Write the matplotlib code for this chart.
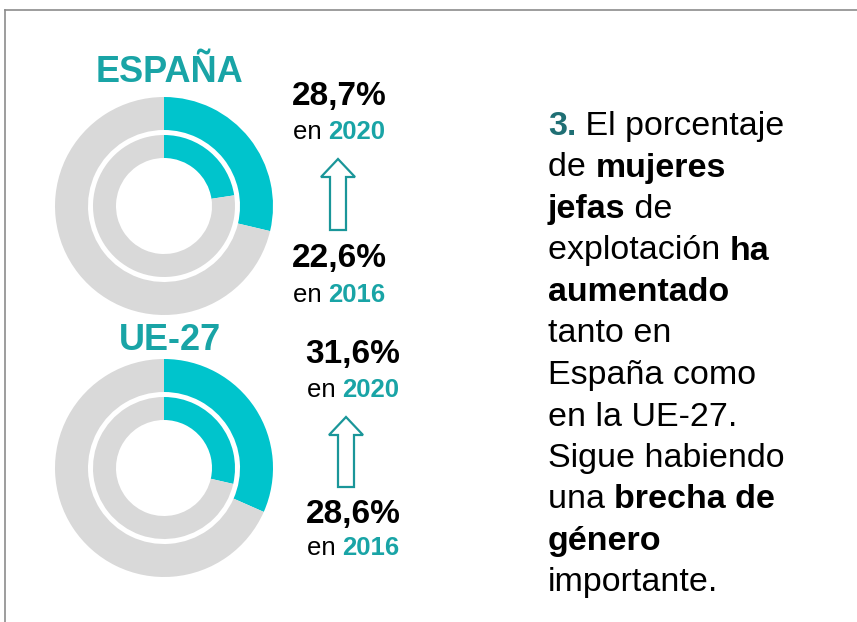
"""Mujeres jefas de explotación: España vs UE-27 (2016 -> 2020)."""

import matplotlib

matplotlib.use("Agg")
import matplotlib.pyplot as plt
from matplotlib.patches import FancyArrow
from matplotlib.lines import Line2D

plt.rcParams["font.family"] = ["Liberation Sans", "DejaVu Sans"]

# datos
regions = ["ESPAÑA", "UE-27"]
share_2016 = [22.6, 28.6]
share_2020 = [28.7, 31.6]
years = ["2016", "2020"]

# texto lateral: (texto, negrita, color)
TEAL = "#19A4A6"
CYAN = "#00C4CC"
GREY = "#D9D9D9"
DARK_TEAL = "#1F6F74"
ARROW = "#1A9699"
BLACK = "#000000"

paragraph = [
    [("3.", True, DARK_TEAL), (" El porcentaje", False, BLACK)],
    [("de ", False, BLACK), ("mujeres", True, BLACK)],
    [("jefas", True, BLACK), (" de", False, BLACK)],
    [("explotación ", False, BLACK), ("ha", True, BLACK)],
    [("aumentado", True, BLACK)],
    [("tanto en", False, BLACK)],
    [("España como", False, BLACK)],
    [("en la UE-27.", False, BLACK)],
    [("Sigue habiendo", False, BLACK)],
    [("una ", False, BLACK), ("brecha de", True, BLACK)],
    [("género", True, BLACK)],
    [("importante.", False, BLACK)],
]

W, H = 857, 622
fig = plt.figure(figsize=(W / 100, H / 100), dpi=100)
ax = fig.add_axes([0, 0, 1, 1])
renderer = fig.canvas.get_renderer()


def Y(y):
    return H - y


def text_width(txt, size, bold):
    # mide con barras para contar también los espacios
    w = "bold" if bold else "normal"
    a = ax.text(0, 0, "|" + txt + "|", fontsize=size, fontweight=w)
    b = ax.text(0, 0, "||", fontsize=size, fontweight=w)
    width = a.get_window_extent(renderer).width - b.get_window_extent(renderer).width
    a.remove()
    b.remove()
    return width


def draw_runs(x, y, runs, size, align="left"):
    widths = [text_width(t, size, b) for t, b, _ in runs]
    if align == "center":
        x = x - sum(widths) / 2
    for (txt, bold, color), w in zip(runs, widths):
        ax.text(x, Y(y), txt, fontsize=size, color=color, va="baseline", ha="left",
                fontweight="bold" if bold else "normal")
        x += w


# anillos
centers = [(164, 206), (164, 468)]
for (cx, cy), v16, v20 in zip(centers, share_2016, share_2020):
    ax.pie([v20, 100 - v20], radius=109, center=(cx, Y(cy)), startangle=90,
           counterclock=False, colors=[CYAN, GREY],
           wedgeprops=dict(width=33, linewidth=0))
    ax.pie([v16, 100 - v16], radius=71, center=(cx, Y(cy)), startangle=90,
           counterclock=False, colors=[CYAN, GREY],
           wedgeprops=dict(width=23, linewidth=0))

# títulos
for name, by in zip(regions, [82, 350]):
    ax.text(170, Y(by), name, fontsize=26, fontweight="bold", color=TEAL,
            ha="center", va="baseline")

# cifras y flechas
layout = [
    dict(x=339, top=105, top_en=139, ax_=338, tip=159, bot=230, low=267, low_en=302),
    dict(x=353, top=363, top_en=397, ax_=346, tip=417, bot=487, low=523, low_en=555),
]
for lay, v16, v20 in zip(layout, share_2016, share_2020):
    draw_runs(lay["x"], lay["top"], [(f"{v20:.1f}%".replace(".", ","), True, BLACK)],
              24, "center")
    draw_runs(lay["x"], lay["top_en"], [("en ", False, BLACK), (years[1], True, TEAL)],
              18.5, "center")
    draw_runs(lay["x"], lay["low"], [(f"{v16:.1f}%".replace(".", ","), True, BLACK)],
              24, "center")
    draw_runs(lay["x"], lay["low_en"], [("en ", False, BLACK), (years[0], True, TEAL)],
              18.5, "center")
    ax.add_patch(FancyArrow(lay["ax_"], Y(lay["bot"]), 0, lay["bot"] - lay["tip"],
                            width=16, head_width=34, head_length=18,
                            length_includes_head=True, fill=False,
                            edgecolor=ARROW, linewidth=1.6))

# párrafo
for i, runs in enumerate(paragraph):
    draw_runs(548, 135 + 41.5 * i, runs, 24.5)

ax.set_xlim(0, W)
ax.set_ylim(0, H)
ax.set_axis_off()

# marco
fig.add_artist(Line2D([5 / W, 1], [1 - 10 / H, 1 - 10 / H], color="#8c8c8c", lw=1.2))
fig.add_artist(Line2D([5 / W, 5 / W], [0, 1 - 10 / H], color="#8c8c8c", lw=1.2))

fig.savefig("out.png", dpi=100)
